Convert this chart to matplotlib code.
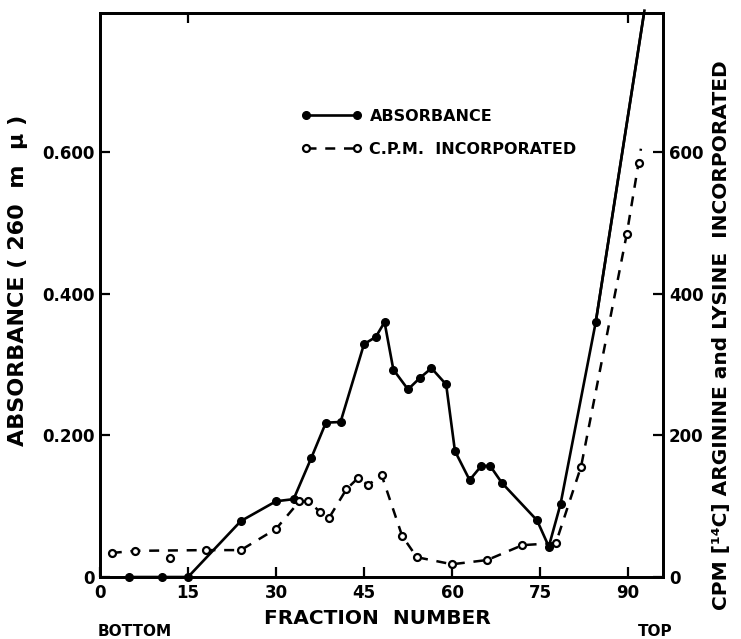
import matplotlib.pyplot as plt
import numpy as np

plt.rcParams['font.family'] = ['DejaVu Sans']
plt.rcParams['font.weight'] = 'bold'

# absorbance at 260 m-mu (solid, filled dots); last value is where the line leaves the top
abs_frac = [5, 10.5, 15, 24, 30, 33, 36, 38.5, 41, 45, 47, 48.5, 50, 52.5, 54.5, 56.5, 59,
            60.5, 63, 65, 66.5, 68.5, 74.5, 76.5, 78.5, 84.5, 92.8]
abs_val = [0, 0, 0, 0.079, 0.107, 0.110, 0.168, 0.218, 0.219, 0.329, 0.339, 0.360, 0.293,
           0.265, 0.281, 0.295, 0.272, 0.178, 0.137, 0.157, 0.157, 0.133, 0.080, 0.043,
           0.103, 0.360, 0.80]

# CPM incorporated (dashed, open circles); the point at fraction 12 sits off the line
cpm_frac = [2, 6, 12, 18, 24, 30, 34, 35.5, 37.5, 39, 42, 44, 45.7, 48, 51.5, 54, 60, 66,
            72, 77.7, 82, 89.8, 91.8, 92.2]
cpm_val = [34, 37, 27, 38, 38, 68, 107, 107, 92, 83, 124, 140, 130, 144, 58, 28, 18, 24,
           45, 48, 156, 485, 585, 605]
cpm_off_line = [2]

x_ticks = [0, 15, 30, 45, 60, 75, 90]
left_ticks = [0, 0.2, 0.4, 0.6]
left_labels = ['0', '0.200', '0.400', '0.600']
right_ticks = [0, 200, 400, 600]

W, H = 741, 639
fig = plt.figure(figsize=(7.41, 6.39), dpi=100)
ax = fig.add_axes([0.135, 0.097, 0.76, 0.883])
ax2 = ax.twinx()

l1, = ax.plot(abs_frac, abs_val, color='black', lw=1.9, marker='o', ms=5.5,
              markevery=list(range(len(abs_frac) - 1)), clip_on=False, zorder=3)
ax.plot(abs_frac[-2:], abs_val[-2:], color='black', lw=1.9, zorder=3)

on_line = [i for i in range(len(cpm_frac)) if i not in cpm_off_line]
fx = np.array(cpm_frac)[on_line]
fy = np.array(cpm_val)[on_line]
l2, = ax2.plot(fx, fy, color='black', lw=1.8, ls=(0, (4, 3.5)), marker='o', ms=5,
               mfc='white', mew=1.6, markevery=list(range(len(fx) - 1)), zorder=3)
ax2.plot(np.array(cpm_frac)[cpm_off_line], np.array(cpm_val)[cpm_off_line], ls='none',
         marker='o', ms=5, mfc='white', mec='black', mew=1.6)

ax.set_xlim(0, 96)
ax.set_ylim(0, 0.797)
ax2.set_ylim(0, 797)

ax.set_xticks(x_ticks)
ax.set_yticks(left_ticks)
ax.set_yticklabels(left_labels)
ax2.set_yticks(right_ticks)

for a in (ax, ax2):
    for s in a.spines.values():
        s.set_linewidth(2)
ax.tick_params(direction='in', length=7, width=1.6, labelsize=12, pad=4)
ax.tick_params(axis='x', pad=5)
ax2.tick_params(direction='in', length=7, width=1.6, labelsize=12, pad=4)

top = ax.secondary_xaxis('top')
top.set_xticks([15, 90])
top.set_xticklabels([])
top.tick_params(direction='in', length=7, width=1.6)

# axis titles placed in figure pixels to match the reference layout
fig.text(377 / W, 1 - 618 / H, 'FRACTION  NUMBER', fontsize=14.5, fontweight='bold',
         ha='center', va='center')
fig.text(18 / W, 1 - 280 / H, 'ABSORBANCE ( 260  m  \u03bc )', fontsize=16,
         fontweight='bold', rotation=90, ha='center', va='center')
fig.text(722 / W, 1 - 335 / H, 'CPM [\u00b9\u2074C] ARGININE and LYSINE  INCORPORATED',
         fontsize=14.5, fontweight='bold', rotation=90, ha='center', va='center')

ax.legend([l1, l2], ['ABSORBANCE', 'C.P.M.  INCORPORATED'], numpoints=2,
          frameon=False, fontsize=11.5, handlelength=3.8, handletextpad=0.5,
          labelspacing=1.1, loc='upper left', bbox_to_anchor=(0.331, 0.855))

fig.text(135 / W, 1 - 631 / H, 'BOTTOM', fontsize=11, ha='center', va='center')
fig.text(655 / W, 1 - 631 / H, 'TOP', fontsize=11, ha='center', va='center')

fig.savefig('out.png', dpi=100)
